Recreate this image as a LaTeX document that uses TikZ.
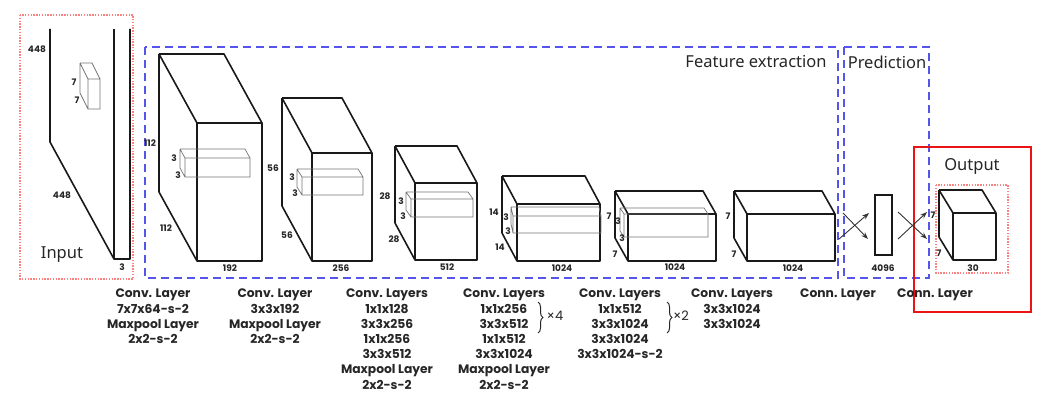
\documentclass[tikz,border=0pt]{standalone}
\usepackage{fontspec}
\setmainfont{Poppins}
\newfontfamily\titlefont{Noto Sans}
\usetikzlibrary{arrows.meta,decorations.pathreplacing}
\definecolor{dashblue}{RGB}{85,85,235}
\definecolor{pinkdot}{RGB}{250,130,130}
\definecolor{outred}{RGB}{235,20,20}
% #1 x, #2 y (back top-left), #3 w, #4 h, #5 dx, #6 dy, #7 style
\newcommand\cuboid[7]{%
  \draw[#7] (#1,#2) -- ++(#3,0) -- ++(#5,#6)
    (#1,#2) -- ++(#5,#6)
    (#1,#2) -- ++(0,#4) -- ++(#5,#6)
    (#1+#5,#2+#6) rectangle ++(#3,#4);}
\tikzset{
  cube/.style={line width=1.6pt, black!90, line join=round},
  kernel/.style={line width=0.7pt, black!55},
  dim/.style={font=\fontsize{9}{9}\selectfont\bfseries, text=black!85, inner sep=0pt},
  lab/.style={font=\fontsize{12.3}{15.2}\selectfont\bfseries, text=black!85, align=center, anchor=north, inner sep=0pt},
  title/.style={font=\titlefont\fontsize{16.5}{17}\selectfont, text=black!85, inner sep=0pt},
  bluebox/.style={draw=dashblue, line width=1.5pt, dash pattern=on 8pt off 5pt},
  pinkbox/.style={draw=pinkdot, line width=1.2pt, dash pattern=on 1.4pt off 1.4pt},
  conn/.style={line width=0.9pt, black!80, -{Stealth[length=7pt,width=5pt]}},
  times/.style={font=\fontsize{13}{13}\selectfont, text=black!85, inner sep=0pt},
  bracket/.style={line width=1pt, black!85, decorate, decoration={brace, amplitude=5pt}},
}
\begin{document}
\begin{tikzpicture}[x=1pt,y=-1pt]
\useasboundingbox (0,0) rectangle (1064,412);
% frames
\draw[pinkbox] (20,15) rectangle (133,279);
\draw[bluebox] (145,47) rectangle (838,278);
\draw[bluebox] (844,47) rectangle (929,278);
\draw[outred, line width=2pt] (914,147) rectangle (1031,312);
\draw[pinkbox] (936,185) rectangle (1008,273);
\node[title] (tfe) at (756,62) {Feature extraction};
\node[title] (tpr) at (887,62) {Prediction};
\node[title] (tin) at (62,255) {Input};
\node[title] (tout) at (972,166) {Output};
% input slab
\draw[cube] (50,29) -- (50,142) -- (114,259) -- (130,259) -- (130,29);
\draw[cube] (114,29) -- (114,259);
\cuboid{80}{63}{12}{30}{8}{16}{kernel}
\node[dim] (i1) at (37,49) {448};
\node[dim] (i2) at (62,195) {448};
\node[dim] (i3) at (122,267) {3};
\node[dim] (i4) at (74,82) {7};
\node[dim] (i5) at (77,100) {7};
% cube 1
\cuboid{159}{54}{65}{138}{38}{69}{cube}
\cuboid{180}{149}{65}{19}{5}{9}{kernel}
\node[dim] (a1) at (150,143) {112};
\node[dim] (a2) at (166,228) {112};
\node[dim] (a3) at (230,268) {192};
\node[dim] (a4) at (174,158) {3};
\node[dim] (a5) at (178,175) {3};
% cube 2
\cuboid{282}{98}{60}{108}{30}{55}{cube}
\cuboid{297}{169}{61}{18}{5}{8}{kernel}
\node[dim] (b1) at (273,168) {56};
\node[dim] (b2) at (287,235) {56};
\node[dim] (b3) at (341,268) {256};
\node[dim] (b4) at (292,177) {3};
\node[dim] (b5) at (295,193) {3};
% cube 3
\cuboid{395}{146}{62}{77}{20}{37}{cube}
\cuboid{406}{192}{62}{18}{5}{7}{kernel}
\node[dim] (c1) at (385,196) {28};
\node[dim] (c2) at (394,239) {28};
\node[dim] (c3) at (447,267) {512};
\node[dim] (c4) at (401,201) {3};
\node[dim] (c5) at (403,216) {3};
% cube 4
\cuboid{502}{176}{83}{57}{15}{28}{cube}
\cuboid{511}{207}{88}{17}{2}{9}{kernel}
\node[dim] (d1) at (494,212) {14};
\node[dim] (d2) at (500,247) {14};
\node[dim] (d3) at (562,268) {1024};
\node[dim] (d4) at (506,217) {3};
\node[dim] (d5) at (508,231) {3};
% cube 5
\cuboid{615}{191}{88}{47}{13}{23}{cube}
\cuboid{620}{208}{84}{23}{4}{6}{kernel}
\node[dim] (e1) at (609,216) {7};
\node[dim] (e2) at (615,254) {7};
\node[dim] (e3) at (675,267) {1024};
\node[dim] (e4) at (618,221) {3};
\node[dim] (e5) at (622,238) {3};
% cube 6
\cuboid{734}{191}{88}{47}{13}{23}{cube}
\node[dim] (f1) at (728,216) {7};
\node[dim] (f2) at (734,254) {7};
\node[dim] (f3) at (793,268) {1024};
% fully connected bar
\node[draw, line width=1.3pt, black!90, minimum width=17pt, minimum height=60pt, inner sep=0pt] (bar) at (883.5,225) {};
\node[dim] (g1) at (883,268) {4096};
% output cube
\cuboid{939}{190}{43}{47}{14}{23}{cube}
\node[dim] (h1) at (933,215) {7};
\node[dim] (h2) at (939,253) {7};
\node[dim] (h3) at (973,268) {30};
% connections
\coordinate (p1) at (839,239); \coordinate (q1) at (869,213);
\coordinate (p2) at (843,213); \coordinate (q2) at (868,239);
\coordinate (p3) at (898,212); \coordinate (q3) at (927,239);
\coordinate (p4) at (898,239); \coordinate (q4) at (927,212);
\draw[conn] (p1) -- (q1);
\draw[conn] (p2) -- (q2);
\draw[conn] (p3) -- (q3);
\draw[conn] (p4) -- (q4);
% layer labels
\node[lab] (l1) at (153,289) {Conv. Layer\\7x7x64-s-2\\Maxpool Layer\\2x2-s-2};
\node[lab] (l2) at (275,289) {Conv. Layer\\3x3x192\\Maxpool Layer\\2x2-s-2};
\node[lab] (l3) at (387,289) {Conv. Layers\\1x1x128\\3x3x256\\1x1x256\\3x3x512\\Maxpool Layer\\2x2-s-2};
\node[lab] (l4) at (504,289) {Conv. Layers\\1x1x256\\3x3x512\\1x1x512\\3x3x1024\\Maxpool Layer\\2x2-s-2};
\node[lab] (l5) at (620,289) {Conv. Layers\\1x1x512\\3x3x1024\\3x3x1024\\3x3x1024-s-2};
\node[lab] (l6) at (732,289) {Conv. Layers\\3x3x1024\\3x3x1024};
\node[lab] (l7) at (838,289) {Conn. Layer};
\node[lab] (l8) at (935,289) {Conn. Layer};
% braces
\coordinate (br1a) at (538,302); \coordinate (br1b) at (538,333);
\coordinate (br2a) at (667,302); \coordinate (br2b) at (667,333);
\draw[bracket] (br1a) -- (br1b);
\draw[bracket] (br2a) -- (br2b);
\node[times] (x4) at (555,316) {×4};
\node[times] (x2) at (681,316) {×2};
\end{tikzpicture}
\end{document}
